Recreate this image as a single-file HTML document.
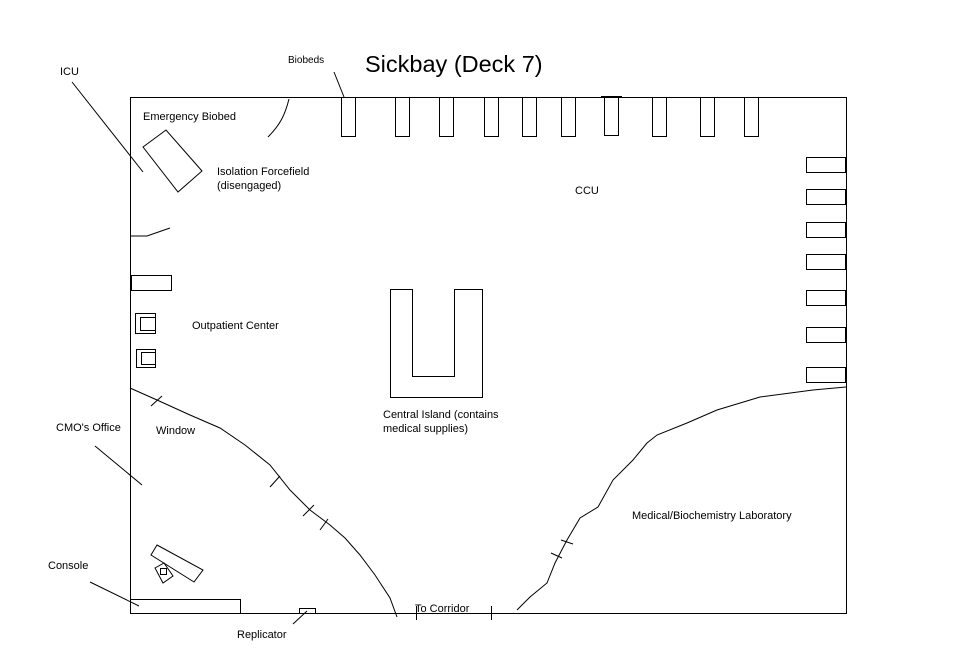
<!DOCTYPE html>
<html><head><style>
body{margin:0;background:#fff;width:977px;height:643px;overflow:hidden}
svg text{font-family:"Liberation Sans",sans-serif;font-size:11px;fill:#000}
</style></head><body>
<svg width="977" height="643" viewBox="0 0 977 643" fill="none" stroke="#000" stroke-width="1">
<rect x="130.5" y="97.5" width="716" height="516"/>
<text x="365" y="72" style="font-size:23.5px" stroke="none">Sickbay (Deck 7)</text>
<text x="288" y="63" stroke="none" style="font-size:10px">Biobeds</text>
<line x1="334" y1="72" x2="344" y2="97"/>
<g>
<rect x="341.5" y="97.5" width="14" height="39"/>
<rect x="395.5" y="97.5" width="14" height="39"/>
<rect x="439.5" y="97.5" width="14" height="39"/>
<rect x="484.5" y="97.5" width="14" height="39"/>
<rect x="522.5" y="97.5" width="14" height="39"/>
<rect x="561.5" y="97.5" width="14" height="39"/>
<rect x="604.5" y="97.5" width="14" height="38"/>
<line x1="601" y1="96.5" x2="622" y2="96.5"/>
<rect x="652.5" y="97.5" width="14" height="39"/>
<rect x="700.5" y="97.5" width="14" height="39"/>
<rect x="744.5" y="97.5" width="14" height="39"/>
</g>
<g>
<rect x="806.5" y="157.5" width="39" height="15"/>
<rect x="806.5" y="189.5" width="39" height="15"/>
<rect x="806.5" y="222.5" width="39" height="15"/>
<rect x="806.5" y="254.5" width="39" height="15"/>
<rect x="806.5" y="290.5" width="39" height="15"/>
<rect x="806.5" y="327.5" width="39" height="15"/>
<rect x="806.5" y="367.5" width="39" height="15"/>
</g>
<text x="575" y="194" stroke="none">CCU</text>
<text x="60" y="75" stroke="none">ICU</text>
<line x1="72" y1="82" x2="143" y2="172"/>
<text x="143" y="120" stroke="none">Emergency Biobed</text>
<polygon points="143,147 166,130 202,171 178,192"/>
<text x="217" y="175" stroke="none">Isolation Forcefield</text>
<text x="217" y="189" stroke="none">(disengaged)</text>
<path d="M289,99 C285,115 280,125 268,137"/>
<path d="M130,236 L147,236 L170,228"/>
<rect x="131.5" y="275.5" width="40" height="15"/>
<rect x="135.5" y="313.5" width="20" height="20"/><path d="M155.5,317.5 H140.5 V330.5 H155.5"/>
<rect x="136.5" y="349.5" width="19" height="18"/><path d="M155.5,352.5 H141.5 V364.5 H155.5"/>
<text x="192" y="329" stroke="none">Outpatient Center</text>
<path d="M390.5,289.5 V397.5 H482.5 V289.5 H454.5 V376.5 H412.5 V289.5 Z"/>
<text x="383" y="418" stroke="none">Central Island (contains</text>
<text x="383" y="432" stroke="none">medical supplies)</text>
<path d="M130,388 L157,400 L190,415 L220,428 L245,445 L270,465 L290,490 L310,510 L330,525 L345,538 L360,555 L375,575 L390,598 L397,617"/>
<line x1="151" y1="406" x2="162" y2="396"/>
<line x1="270" y1="487" x2="280" y2="476"/>
<line x1="303" y1="516" x2="314" y2="505"/>
<line x1="320" y1="530" x2="328" y2="519"/>
<text x="156" y="434" stroke="none">Window</text>
<text x="56" y="431" stroke="none">CMO's Office</text>
<line x1="95" y1="446" x2="142" y2="485"/>
<polygon points="157,545 203,570 194,582 151,555"/>
<polygon points="155,568 164,563 173,576 163,583"/>
<rect x="160.5" y="568.5" width="6" height="6"/>
<text x="48" y="569" stroke="none">Console</text>
<line x1="90" y1="582" x2="139" y2="606"/>
<path d="M130.5,599.5 H240.5 V613"/>
<rect x="299.5" y="608.5" width="16" height="5"/>
<line x1="293" y1="624" x2="307" y2="611"/>
<text x="237" y="638" stroke="none">Replicator</text>
<text x="415" y="612" stroke="none">To Corridor</text>
<line x1="416.5" y1="606" x2="416.5" y2="620"/>
<line x1="491.5" y1="606" x2="491.5" y2="620"/>
<path d="M846,387 L813,390 L760,397 L717,410 L687,423 L657,435 L647,443 L633,460 L613,480 L598,507 L580,518 L567,540 L555,563 L547,583 L530,597 L517,610"/>
<line x1="561" y1="540" x2="573" y2="544"/>
<line x1="551" y1="553" x2="562" y2="558"/>
<text x="632" y="519" stroke="none">Medical/Biochemistry Laboratory</text>
</svg>
</body></html>
